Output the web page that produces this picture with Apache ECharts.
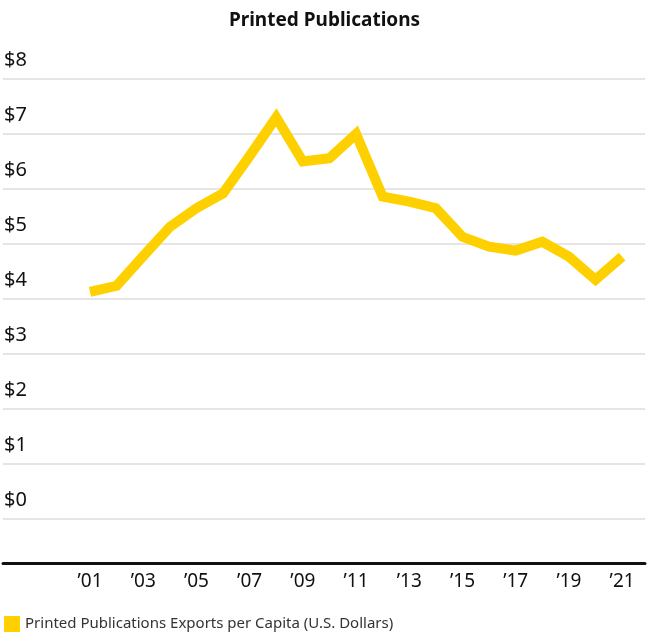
<!DOCTYPE html>
<html>
<head>
<meta charset="utf-8">
<script src="https://cdn.jsdelivr.net/npm/echarts@6/dist/echarts.min.js"></script>
<style>
  html, body { margin: 0; padding: 0; background: #fff; }
  #chart { width: 649px; height: 637px; }
</style>
</head>
<body>
<div id="chart"></div>
<script>
// Printed publications exports per capita, U.S. dollars, 2001–2021
const years = [2001, 2002, 2003, 2004, 2005, 2006, 2007, 2008, 2009, 2010, 2011,
               2012, 2013, 2014, 2015, 2016, 2017, 2018, 2019, 2020, 2021];
const exportsPerCapita = [4.13, 4.24, 4.78, 5.31, 5.65, 5.92, 6.6, 7.3, 6.5, 6.56, 7.0,
                          5.86, 5.77, 5.65, 5.13, 4.95, 4.88, 5.04, 4.77, 4.35, 4.77];
const yearTicks = [2001, 2003, 2005, 2007, 2009, 2011, 2013, 2015, 2017, 2019, 2021];
const seriesName = 'Printed Publications Exports per Capita (U.S. Dollars)';

const FONT = '"Noto Sans", "Open Sans", sans-serif';

const chart = echarts.init(document.getElementById('chart'));
chart.setOption({
  animation: false,
  backgroundColor: '#ffffff',
  title: {
    text: 'Printed Publications',
    left: 'center',
    top: 6,
    textStyle: { fontFamily: FONT, fontSize: 19, fontWeight: 'bold', color: '#111' }
  },
  legend: {
    data: [seriesName],
    left: 4,
    bottom: 5,
    padding: 0,
    icon: 'rect',
    itemWidth: 16,
    itemHeight: 16,
    textStyle: { fontFamily: FONT, fontSize: 15, color: '#333' }
  },
  grid: { left: 3, right: 4, top: 79, bottom: 118, containLabel: false },
  xAxis: {
    type: 'value',
    min: 1997.73,
    max: 2021.86,
    offset: 44,
    splitLine: { show: false },
    axisTick: { show: false },
    axisLine: { show: true, onZero: false, lineStyle: { color: '#111', width: 3 } },
    axisLabel: {
      customValues: yearTicks,
      formatter: v => '\u2019' + String(v).slice(2),
      fontFamily: FONT,
      fontSize: 19,
      color: '#111',
      margin: 9
    }
  },
  yAxis: {
    type: 'value',
    min: 0,
    max: 8,
    interval: 1,
    axisLine: { show: false },
    axisTick: { show: false },
    splitLine: { lineStyle: { color: '#dcdcdc', width: 1.5 } },
    axisLabel: {
      inside: true,
      margin: 1,
      verticalAlign: 'bottom',
      padding: [0, 0, 9, 0],
      formatter: v => '$' + v,
      fontFamily: FONT,
      fontSize: 20,
      color: '#111'
    }
  },
  series: [{
    name: seriesName,
    type: 'line',
    data: years.map((y, i) => [y, exportsPerCapita[i]]),
    symbol: 'none',
    lineStyle: { color: '#FFD000', width: 10, join: 'miter' },
    itemStyle: { color: '#FFD000' }
  }]
});
</script>
</body>
</html>
